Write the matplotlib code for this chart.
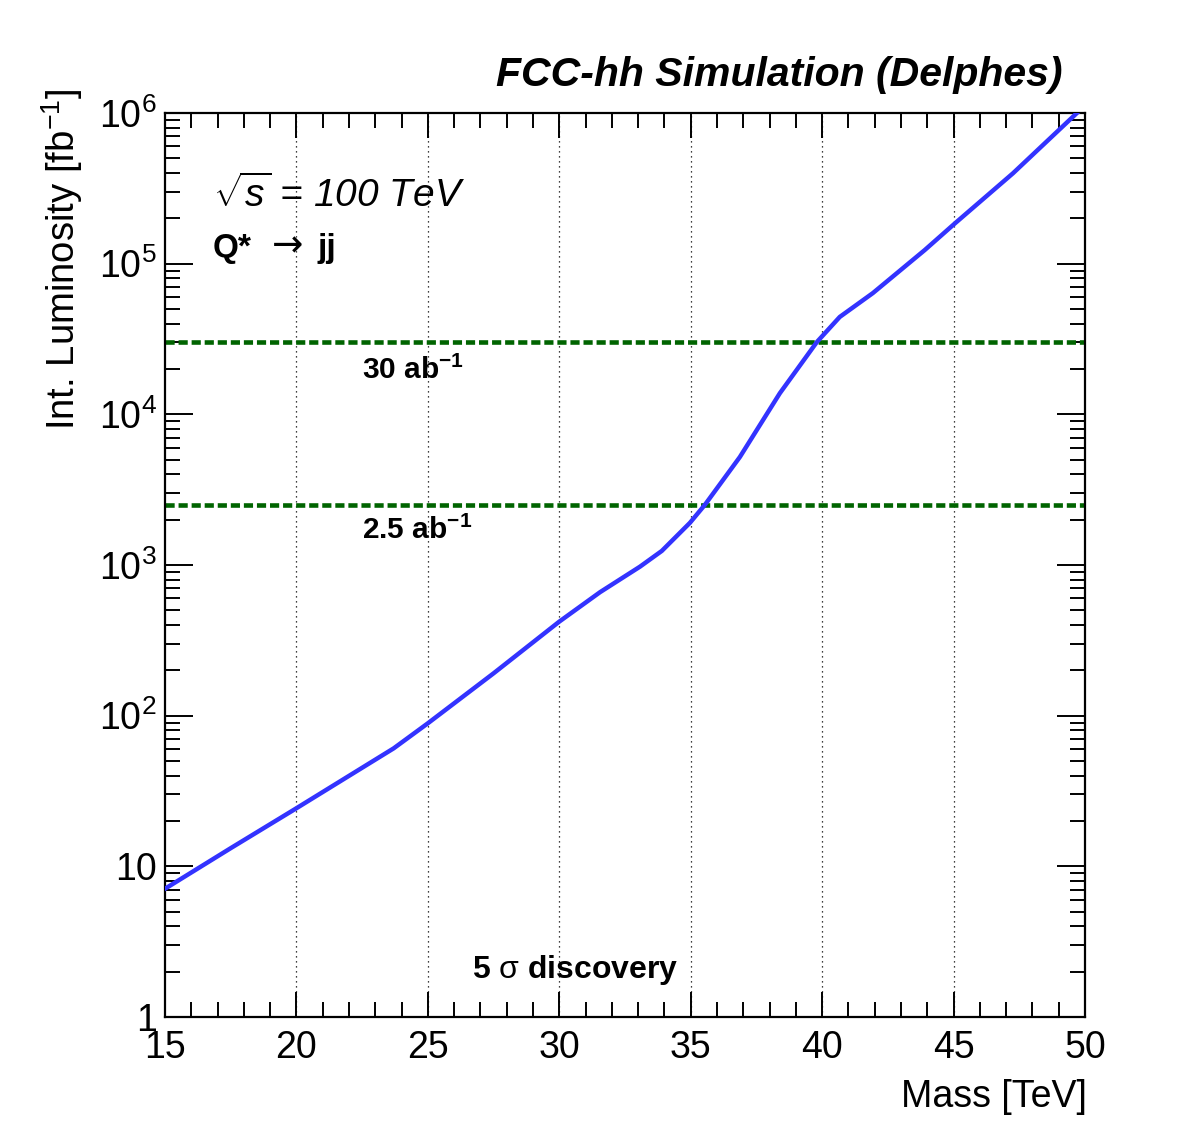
import numpy as np
import matplotlib
matplotlib.use("Agg")
import matplotlib.pyplot as plt
from matplotlib.ticker import FixedLocator, NullFormatter, MultipleLocator

plt.rcParams['font.family'] = ['Liberation Sans', 'DejaVu Sans']
plt.rcParams['mathtext.fontset'] = 'custom'
plt.rcParams['mathtext.rm'] = 'Liberation Sans'
plt.rcParams['mathtext.it'] = 'Liberation Sans:italic'
plt.rcParams['mathtext.bf'] = 'Liberation Sans:bold'

# ============================================================
# DATA
# ============================================================

mass_tev = [15.0, 17.5, 20.0, 23.7, 25.0, 27.5, 30.0, 31.55, 33.07, 33.9,
            34.97, 35.54, 36.87, 38.39, 39.8, 40.67, 41.93, 43.9, 45.05,
            47.26, 49.68, 50.0]
lumi_fb = [7.1, 13.2, 24.3, 60.7, 89, 191, 421, 660, 975, 1240,
           1905, 2510, 5210, 13800, 30200, 44300, 63800, 123000, 185000,
           398000, 995000, 1120000]

ref_lumis = [30000, 2500]
ref_labels = [r"30 ab$^{\mathbf{-1}}$", r"2.5 ab$^{\mathbf{-1}}$"]

x_ticks = [15, 20, 25, 30, 35, 40, 45, 50]
x_grid = [20, 25, 30, 35, 40, 45]
y_ticks = [1, 10, 1e2, 1e3, 1e4, 1e5, 1e6]
y_ticklabels = ["1", "10", r"$10^{2}$", r"$10^{3}$", r"$10^{4}$", r"$10^{5}$", r"$10^{6}$"]

# ============================================================
# FIGURE
# ============================================================

W, H = 1182, 1132
fig = plt.figure(figsize=(W / 100, H / 100), dpi=100)
ax = fig.add_axes([165 / W, 1 - 1017 / H, 920 / W, 904 / H])

for xg in x_grid:
    ax.axvline(xg, color="black", lw=0.9, linestyle=(0, (1, 3)), zorder=1)

for yl in ref_lumis:
    ax.axhline(yl, color="#006400", lw=3.3, dashes=(2.0, 0.85), zorder=2)

ax.plot(mass_tev, lumi_fb, color="#3333ff", lw=3.2, zorder=3,
        solid_joinstyle="round")

ax.set_xlim(15, 50)
ax.set_yscale("log")
ax.set_ylim(1, 1e6)

ax.xaxis.set_major_locator(FixedLocator(x_ticks))
ax.xaxis.set_minor_locator(MultipleLocator(1))
ax.set_xticklabels([str(t) for t in x_ticks])
ax.yaxis.set_major_locator(FixedLocator(y_ticks))
minor_y = [m * 10 ** d for d in range(6) for m in range(2, 10)]
ax.yaxis.set_minor_locator(FixedLocator(minor_y))
ax.yaxis.set_minor_formatter(NullFormatter())
ax.set_yticklabels(y_ticklabels)

ax.tick_params(axis="both", which="both", direction="in", top=True, right=True,
               width=1.4, labelsize=27, color="black")
ax.tick_params(axis="y", which="major", length=20, pad=6)
ax.tick_params(axis="y", which="minor", length=10.5)
ax.tick_params(axis="x", which="major", length=18, pad=9)
ax.tick_params(axis="x", which="minor", length=10.5)
for sp in ax.spines.values():
    sp.set_linewidth(1.6)

# axis titles, right/top aligned as in ROOT
fig.text(1087 / W, 1 - 1097 / H, "Mass [TeV]", ha="right", va="center", fontsize=27)
fig.text(62 / W, 1 - 88 / H, r"Int. Luminosity [fb$^{-1}$]", ha="center", va="top",
         rotation=90, fontsize=27.5)

# labels on the plot
fig.text(1062 / W, 1 - 75 / H, "FCC-hh Simulation (Delphes)", ha="right", va="center",
         fontsize=29.5, fontweight="bold", fontstyle="italic")
fig.text(213 / W, 1 - 195 / H, r"$\sqrt{s}$ = 100 TeV", ha="left", va="center",
         fontsize=28, fontstyle="italic")
fig.text(213 / W, 1 - 248 / H, "Q*", ha="left", va="center",
         fontsize=24, fontweight="bold")
fig.text(272 / W, 1 - 246 / H, "\u2192", ha="left", va="center",
         fontsize=27, family="DejaVu Sans")
fig.text(318 / W, 1 - 248 / H, "jj", ha="left", va="center",
         fontsize=24, fontweight="bold")
fig.text(362 / W, 1 - 370 / H, ref_labels[0], ha="left", va="center",
         fontsize=21.5, fontweight="bold")
fig.text(362 / W, 1 - 530 / H, ref_labels[1], ha="left", va="center",
         fontsize=21.5, fontweight="bold")
fig.text(472 / W, 1 - 970 / H, r"5 $\mathrm{\sigma}$ discovery", ha="left", va="center",
         fontsize=23, fontweight="bold")

fig.savefig("out.png", dpi=100)
